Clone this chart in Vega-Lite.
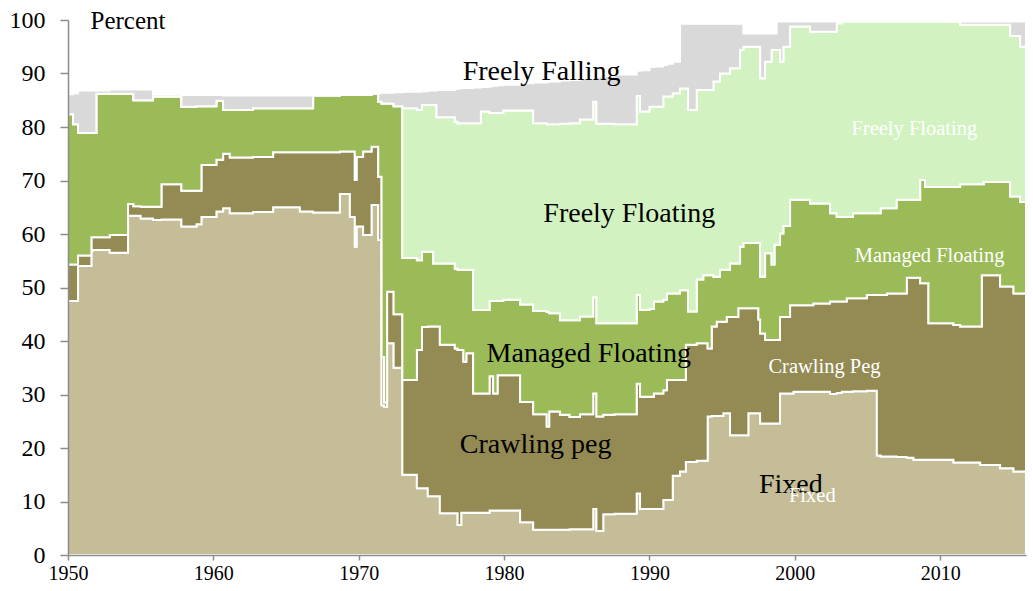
{
  "$schema": "https://vega.github.io/schema/vega-lite/v6.json",
  "width": 958,
  "height": 535,
  "autosize": {"type": "none"},
  "padding": {"left": 68, "top": 20, "right": 7, "bottom": 36},
  "background": "white",
  "config": {"view": {"stroke": null}, "font": "Liberation Serif, Times New Roman, DejaVu Serif, serif"},
  "datasets": {
    "regimes": [
      {"year": 1950.00, "s1_fixed": 47.5, "s2_crawling_peg": 6.8, "s3_managed_floating": 28.1, "s4_freely_floating": 0, "s5_freely_falling": 3.7},
      {"year": 1950.35, "s1_fixed": 47.5, "s2_crawling_peg": 6.8, "s3_managed_floating": 26.2, "s4_freely_floating": 0, "s5_freely_falling": 5.8},
      {"year": 1950.69, "s1_fixed": 54.0, "s2_crawling_peg": 2.0, "s3_managed_floating": 22.9, "s4_freely_floating": 0, "s5_freely_falling": 7.9},
      {"year": 1951.61, "s1_fixed": 56.9, "s2_crawling_peg": 2.5, "s3_managed_floating": 19.5, "s4_freely_floating": 0, "s5_freely_falling": 7.9},
      {"year": 1951.72, "s1_fixed": 57.0, "s2_crawling_peg": 2.4, "s3_managed_floating": 19.5, "s4_freely_floating": 0, "s5_freely_falling": 7.9},
      {"year": 1951.95, "s1_fixed": 57.0, "s2_crawling_peg": 2.4, "s3_managed_floating": 26.8, "s4_freely_floating": 0, "s5_freely_falling": 0.6},
      {"year": 1952.87, "s1_fixed": 56.5, "s2_crawling_peg": 3.3, "s3_managed_floating": 26.4, "s4_freely_floating": 0, "s5_freely_falling": 0.8},
      {"year": 1954.13, "s1_fixed": 63.4, "s2_crawling_peg": 2.2, "s3_managed_floating": 20.6, "s4_freely_floating": 0, "s5_freely_falling": 0.8},
      {"year": 1954.50, "s1_fixed": 63.4, "s2_crawling_peg": 1.8, "s3_managed_floating": 19.8, "s4_freely_floating": 0, "s5_freely_falling": 2.0},
      {"year": 1955.00, "s1_fixed": 62.9, "s2_crawling_peg": 2.2, "s3_managed_floating": 19.9, "s4_freely_floating": 0, "s5_freely_falling": 2.0},
      {"year": 1955.85, "s1_fixed": 62.6, "s2_crawling_peg": 2.5, "s3_managed_floating": 20.6, "s4_freely_floating": 0, "s5_freely_falling": 0.4},
      {"year": 1956.43, "s1_fixed": 62.7, "s2_crawling_peg": 6.6, "s3_managed_floating": 16.4, "s4_freely_floating": 0, "s5_freely_falling": 0.4},
      {"year": 1957.80, "s1_fixed": 61.4, "s2_crawling_peg": 6.7, "s3_managed_floating": 15.7, "s4_freely_floating": 0, "s5_freely_falling": 2.2},
      {"year": 1958.84, "s1_fixed": 61.8, "s2_crawling_peg": 6.3, "s3_managed_floating": 15.8, "s4_freely_floating": 0, "s5_freely_falling": 2.1},
      {"year": 1959.18, "s1_fixed": 63.2, "s2_crawling_peg": 9.7, "s3_managed_floating": 11.0, "s4_freely_floating": 0, "s5_freely_falling": 2.1},
      {"year": 1960.21, "s1_fixed": 64.2, "s2_crawling_peg": 9.7, "s3_managed_floating": 11.0, "s4_freely_floating": 0, "s5_freely_falling": 1.1},
      {"year": 1960.67, "s1_fixed": 64.8, "s2_crawling_peg": 10.2, "s3_managed_floating": 8.2, "s4_freely_floating": 0, "s5_freely_falling": 2.7},
      {"year": 1961.13, "s1_fixed": 63.9, "s2_crawling_peg": 10.4, "s3_managed_floating": 8.9, "s4_freely_floating": 0, "s5_freely_falling": 2.7},
      {"year": 1962.73, "s1_fixed": 64.1, "s2_crawling_peg": 10.3, "s3_managed_floating": 9.1, "s4_freely_floating": 0, "s5_freely_falling": 2.4},
      {"year": 1964.11, "s1_fixed": 65.0, "s2_crawling_peg": 10.3, "s3_managed_floating": 8.2, "s4_freely_floating": 0, "s5_freely_falling": 2.4},
      {"year": 1965.95, "s1_fixed": 64.2, "s2_crawling_peg": 11.1, "s3_managed_floating": 8.2, "s4_freely_floating": 0, "s5_freely_falling": 2.4},
      {"year": 1966.86, "s1_fixed": 64.0, "s2_crawling_peg": 11.3, "s3_managed_floating": 10.6, "s4_freely_floating": 0, "s5_freely_falling": 0},
      {"year": 1968.70, "s1_fixed": 67.5, "s2_crawling_peg": 7.9, "s3_managed_floating": 10.6, "s4_freely_floating": 0, "s5_freely_falling": 0},
      {"year": 1969.39, "s1_fixed": 63.2, "s2_crawling_peg": 12.2, "s3_managed_floating": 10.6, "s4_freely_floating": 0, "s5_freely_falling": 0},
      {"year": 1969.73, "s1_fixed": 57.6, "s2_crawling_peg": 12.5, "s3_managed_floating": 15.9, "s4_freely_floating": 0, "s5_freely_falling": 0},
      {"year": 1969.85, "s1_fixed": 61.4, "s2_crawling_peg": 13.0, "s3_managed_floating": 11.6, "s4_freely_floating": 0, "s5_freely_falling": 0},
      {"year": 1970.30, "s1_fixed": 59.8, "s2_crawling_peg": 15.6, "s3_managed_floating": 10.6, "s4_freely_floating": 0, "s5_freely_falling": 0},
      {"year": 1970.88, "s1_fixed": 65.4, "s2_crawling_peg": 10.9, "s3_managed_floating": 9.9, "s4_freely_floating": 0, "s5_freely_falling": 0},
      {"year": 1971.34, "s1_fixed": 58.9, "s2_crawling_peg": 11.8, "s3_managed_floating": 14.0, "s4_freely_floating": 0, "s5_freely_falling": 1.6},
      {"year": 1971.57, "s1_fixed": 28.0, "s2_crawling_peg": 9.0, "s3_managed_floating": 47.4, "s4_freely_floating": 0, "s5_freely_falling": 2.0},
      {"year": 1971.75, "s1_fixed": 27.7, "s2_crawling_peg": 0.8, "s3_managed_floating": 55.9, "s4_freely_floating": 0, "s5_freely_falling": 2.0},
      {"year": 1971.95, "s1_fixed": 39.6, "s2_crawling_peg": 9.6, "s3_managed_floating": 35.2, "s4_freely_floating": 0, "s5_freely_falling": 2.0},
      {"year": 1972.40, "s1_fixed": 35.0, "s2_crawling_peg": 10.0, "s3_managed_floating": 38.9, "s4_freely_floating": 0, "s5_freely_falling": 2.6},
      {"year": 1973.00, "s1_fixed": 15.0, "s2_crawling_peg": 17.7, "s3_managed_floating": 22.8, "s4_freely_floating": 28.0, "s5_freely_falling": 3.1},
      {"year": 1974.00, "s1_fixed": 12.5, "s2_crawling_peg": 25.8, "s3_managed_floating": 16.8, "s4_freely_floating": 28.1, "s5_freely_falling": 3.4},
      {"year": 1974.35, "s1_fixed": 12.5, "s2_crawling_peg": 30.1, "s3_managed_floating": 14.1, "s4_freely_floating": 27.4, "s5_freely_falling": 2.6},
      {"year": 1974.75, "s1_fixed": 11.0, "s2_crawling_peg": 31.7, "s3_managed_floating": 14.0, "s4_freely_floating": 27.4, "s5_freely_falling": 2.7},
      {"year": 1975.12, "s1_fixed": 11.0, "s2_crawling_peg": 31.7, "s3_managed_floating": 11.8, "s4_freely_floating": 29.6, "s5_freely_falling": 2.7},
      {"year": 1975.35, "s1_fixed": 11.0, "s2_crawling_peg": 31.7, "s3_managed_floating": 11.8, "s4_freely_floating": 27.3, "s5_freely_falling": 5.1},
      {"year": 1975.58, "s1_fixed": 7.8, "s2_crawling_peg": 31.5, "s3_managed_floating": 15.2, "s4_freely_floating": 27.3, "s5_freely_falling": 5.1},
      {"year": 1976.61, "s1_fixed": 7.8, "s2_crawling_peg": 30.8, "s3_managed_floating": 14.9, "s4_freely_floating": 27.5, "s5_freely_falling": 6.1},
      {"year": 1976.80, "s1_fixed": 5.6, "s2_crawling_peg": 32.7, "s3_managed_floating": 15.0, "s4_freely_floating": 27.4, "s5_freely_falling": 6.5},
      {"year": 1977.05, "s1_fixed": 7.9, "s2_crawling_peg": 30.4, "s3_managed_floating": 15.0, "s4_freely_floating": 27.4, "s5_freely_falling": 6.6},
      {"year": 1977.20, "s1_fixed": 7.9, "s2_crawling_peg": 28.2, "s3_managed_floating": 17.2, "s4_freely_floating": 27.4, "s5_freely_falling": 6.6},
      {"year": 1977.40, "s1_fixed": 7.9, "s2_crawling_peg": 29.8, "s3_managed_floating": 15.6, "s4_freely_floating": 27.4, "s5_freely_falling": 6.6},
      {"year": 1977.87, "s1_fixed": 7.9, "s2_crawling_peg": 22.3, "s3_managed_floating": 15.6, "s4_freely_floating": 34.9, "s5_freely_falling": 6.7},
      {"year": 1978.40, "s1_fixed": 7.9, "s2_crawling_peg": 22.3, "s3_managed_floating": 15.6, "s4_freely_floating": 37.1, "s5_freely_falling": 4.6},
      {"year": 1979.00, "s1_fixed": 8.3, "s2_crawling_peg": 25.1, "s3_managed_floating": 14.1, "s4_freely_floating": 35.1, "s5_freely_falling": 5.0},
      {"year": 1979.25, "s1_fixed": 8.3, "s2_crawling_peg": 21.9, "s3_managed_floating": 17.3, "s4_freely_floating": 35.1, "s5_freely_falling": 5.1},
      {"year": 1979.55, "s1_fixed": 8.3, "s2_crawling_peg": 25.3, "s3_managed_floating": 13.9, "s4_freely_floating": 35.1, "s5_freely_falling": 5.2},
      {"year": 1979.94, "s1_fixed": 8.3, "s2_crawling_peg": 25.3, "s3_managed_floating": 14.1, "s4_freely_floating": 35.4, "s5_freely_falling": 4.8},
      {"year": 1981.10, "s1_fixed": 6.1, "s2_crawling_peg": 22.5, "s3_managed_floating": 18.2, "s4_freely_floating": 36.3, "s5_freely_falling": 5.1},
      {"year": 1982.00, "s1_fixed": 4.7, "s2_crawling_peg": 21.6, "s3_managed_floating": 19.3, "s4_freely_floating": 35.1, "s5_freely_falling": 7.6},
      {"year": 1982.93, "s1_fixed": 4.7, "s2_crawling_peg": 19.3, "s3_managed_floating": 21.4, "s4_freely_floating": 35.1, "s5_freely_falling": 7.9},
      {"year": 1983.10, "s1_fixed": 4.7, "s2_crawling_peg": 22.1, "s3_managed_floating": 18.4, "s4_freely_floating": 35.3, "s5_freely_falling": 8.0},
      {"year": 1983.84, "s1_fixed": 4.7, "s2_crawling_peg": 21.5, "s3_managed_floating": 17.7, "s4_freely_floating": 36.7, "s5_freely_falling": 8.1},
      {"year": 1984.50, "s1_fixed": 4.8, "s2_crawling_peg": 21.0, "s3_managed_floating": 18.1, "s4_freely_floating": 36.8, "s5_freely_falling": 8.1},
      {"year": 1985.22, "s1_fixed": 4.8, "s2_crawling_peg": 21.5, "s3_managed_floating": 18.3, "s4_freely_floating": 36.8, "s5_freely_falling": 7.6},
      {"year": 1986.13, "s1_fixed": 8.6, "s2_crawling_peg": 21.6, "s3_managed_floating": 18.0, "s4_freely_floating": 36.5, "s5_freely_falling": 4.6},
      {"year": 1986.35, "s1_fixed": 4.5, "s2_crawling_peg": 21.4, "s3_managed_floating": 17.4, "s4_freely_floating": 37.3, "s5_freely_falling": 8.8},
      {"year": 1986.82, "s1_fixed": 7.6, "s2_crawling_peg": 18.6, "s3_managed_floating": 17.1, "s4_freely_floating": 37.3, "s5_freely_falling": 8.9},
      {"year": 1987.60, "s1_fixed": 7.7, "s2_crawling_peg": 18.6, "s3_managed_floating": 17.0, "s4_freely_floating": 37.2, "s5_freely_falling": 9.3},
      {"year": 1989.12, "s1_fixed": 11.5, "s2_crawling_peg": 20.5, "s3_managed_floating": 16.6, "s4_freely_floating": 37.2, "s5_freely_falling": 4.7},
      {"year": 1989.35, "s1_fixed": 8.6, "s2_crawling_peg": 21.0, "s3_managed_floating": 16.2, "s4_freely_floating": 37.1, "s5_freely_falling": 7.7},
      {"year": 1990.00, "s1_fixed": 8.6, "s2_crawling_peg": 21.0, "s3_managed_floating": 16.4, "s4_freely_floating": 37.8, "s5_freely_falling": 7.4},
      {"year": 1990.30, "s1_fixed": 8.6, "s2_crawling_peg": 21.6, "s3_managed_floating": 17.2, "s4_freely_floating": 36.4, "s5_freely_falling": 7.5},
      {"year": 1990.95, "s1_fixed": 10.3, "s2_crawling_peg": 20.5, "s3_managed_floating": 16.9, "s4_freely_floating": 38.0, "s5_freely_falling": 5.9},
      {"year": 1991.20, "s1_fixed": 10.3, "s2_crawling_peg": 22.4, "s3_managed_floating": 16.2, "s4_freely_floating": 36.8, "s5_freely_falling": 6.1},
      {"year": 1991.60, "s1_fixed": 14.8, "s2_crawling_peg": 17.9, "s3_managed_floating": 16.2, "s4_freely_floating": 37.4, "s5_freely_falling": 5.9},
      {"year": 1992.10, "s1_fixed": 15.6, "s2_crawling_peg": 17.1, "s3_managed_floating": 16.8, "s4_freely_floating": 37.7, "s5_freely_falling": 12.1},
      {"year": 1992.50, "s1_fixed": 17.4, "s2_crawling_peg": 21.9, "s3_managed_floating": 10.2, "s4_freely_floating": 37.7, "s5_freely_falling": 12.1},
      {"year": 1992.65, "s1_fixed": 17.4, "s2_crawling_peg": 21.9, "s3_managed_floating": 6.2, "s4_freely_floating": 37.7, "s5_freely_falling": 16.1},
      {"year": 1993.25, "s1_fixed": 17.6, "s2_crawling_peg": 22.0, "s3_managed_floating": 11.9, "s4_freely_floating": 35.4, "s5_freely_falling": 12.4},
      {"year": 1993.70, "s1_fixed": 17.6, "s2_crawling_peg": 22.0, "s3_managed_floating": 12.7, "s4_freely_floating": 34.6, "s5_freely_falling": 12.4},
      {"year": 1994.00, "s1_fixed": 25.9, "s2_crawling_peg": 12.7, "s3_managed_floating": 13.7, "s4_freely_floating": 34.6, "s5_freely_falling": 12.4},
      {"year": 1994.28, "s1_fixed": 26.0, "s2_crawling_peg": 16.7, "s3_managed_floating": 9.6, "s4_freely_floating": 34.6, "s5_freely_falling": 12.4},
      {"year": 1994.40, "s1_fixed": 26.0, "s2_crawling_peg": 16.7, "s3_managed_floating": 9.3, "s4_freely_floating": 36.5, "s5_freely_falling": 10.8},
      {"year": 1994.62, "s1_fixed": 26.0, "s2_crawling_peg": 17.6, "s3_managed_floating": 8.4, "s4_freely_floating": 36.5, "s5_freely_falling": 10.8},
      {"year": 1994.85, "s1_fixed": 26.0, "s2_crawling_peg": 17.6, "s3_managed_floating": 9.7, "s4_freely_floating": 36.7, "s5_freely_falling": 9.3},
      {"year": 1995.08, "s1_fixed": 26.5, "s2_crawling_peg": 17.1, "s3_managed_floating": 9.7, "s4_freely_floating": 36.7, "s5_freely_falling": 9.3},
      {"year": 1995.31, "s1_fixed": 26.5, "s2_crawling_peg": 18.0, "s3_managed_floating": 8.8, "s4_freely_floating": 36.7, "s5_freely_falling": 9.3},
      {"year": 1995.54, "s1_fixed": 22.4, "s2_crawling_peg": 22.1, "s3_managed_floating": 10.0, "s4_freely_floating": 36.5, "s5_freely_falling": 8.3},
      {"year": 1996.11, "s1_fixed": 22.4, "s2_crawling_peg": 23.7, "s3_managed_floating": 8.4, "s4_freely_floating": 36.5, "s5_freely_falling": 8.3},
      {"year": 1996.23, "s1_fixed": 22.4, "s2_crawling_peg": 23.7, "s3_managed_floating": 11.5, "s4_freely_floating": 36.8, "s5_freely_falling": 4.9},
      {"year": 1996.46, "s1_fixed": 22.4, "s2_crawling_peg": 23.7, "s3_managed_floating": 12.2, "s4_freely_floating": 36.7, "s5_freely_falling": 2.5},
      {"year": 1996.80, "s1_fixed": 26.5, "s2_crawling_peg": 19.6, "s3_managed_floating": 12.2, "s4_freely_floating": 36.7, "s5_freely_falling": 2.5},
      {"year": 1997.49, "s1_fixed": 26.5, "s2_crawling_peg": 17.5, "s3_managed_floating": 14.3, "s4_freely_floating": 36.7, "s5_freely_falling": 2.5},
      {"year": 1997.61, "s1_fixed": 24.6, "s2_crawling_peg": 16.8, "s3_managed_floating": 10.6, "s4_freely_floating": 37.1, "s5_freely_falling": 8.4},
      {"year": 1997.95, "s1_fixed": 24.6, "s2_crawling_peg": 15.6, "s3_managed_floating": 16.2, "s4_freely_floating": 35.8, "s5_freely_falling": 5.3},
      {"year": 1998.40, "s1_fixed": 24.6, "s2_crawling_peg": 15.6, "s3_managed_floating": 14.1, "s4_freely_floating": 40.1, "s5_freely_falling": 3.1},
      {"year": 1998.60, "s1_fixed": 24.6, "s2_crawling_peg": 15.6, "s3_managed_floating": 17.8, "s4_freely_floating": 36.4, "s5_freely_falling": 3.1},
      {"year": 1998.75, "s1_fixed": 24.6, "s2_crawling_peg": 15.6, "s3_managed_floating": 17.8, "s4_freely_floating": 36.4, "s5_freely_falling": 5.3},
      {"year": 1998.98, "s1_fixed": 30.2, "s2_crawling_peg": 14.3, "s3_managed_floating": 15.6, "s4_freely_floating": 32.1, "s5_freely_falling": 7.5},
      {"year": 1999.21, "s1_fixed": 30.2, "s2_crawling_peg": 14.3, "s3_managed_floating": 17.0, "s4_freely_floating": 33.5, "s5_freely_falling": 4.7},
      {"year": 1999.67, "s1_fixed": 30.2, "s2_crawling_peg": 16.5, "s3_managed_floating": 19.7, "s4_freely_floating": 32.4, "s5_freely_falling": 0.9},
      {"year": 1999.90, "s1_fixed": 30.5, "s2_crawling_peg": 16.2, "s3_managed_floating": 19.7, "s4_freely_floating": 32.4, "s5_freely_falling": 0.9},
      {"year": 2001.05, "s1_fixed": 30.5, "s2_crawling_peg": 16.2, "s3_managed_floating": 19.0, "s4_freely_floating": 32.1, "s5_freely_falling": 1.9},
      {"year": 2001.27, "s1_fixed": 30.5, "s2_crawling_peg": 16.5, "s3_managed_floating": 18.7, "s4_freely_floating": 32.1, "s5_freely_falling": 1.9},
      {"year": 2002.42, "s1_fixed": 30.1, "s2_crawling_peg": 17.3, "s3_managed_floating": 16.5, "s4_freely_floating": 33.9, "s5_freely_falling": 1.9},
      {"year": 2002.88, "s1_fixed": 30.3, "s2_crawling_peg": 17.1, "s3_managed_floating": 15.8, "s4_freely_floating": 36.2, "s5_freely_falling": 0.3},
      {"year": 2003.23, "s1_fixed": 30.5, "s2_crawling_peg": 16.9, "s3_managed_floating": 15.8, "s4_freely_floating": 36.5, "s5_freely_falling": 0},
      {"year": 2003.57, "s1_fixed": 30.5, "s2_crawling_peg": 17.5, "s3_managed_floating": 15.2, "s4_freely_floating": 36.5, "s5_freely_falling": 0},
      {"year": 2004.00, "s1_fixed": 30.6, "s2_crawling_peg": 17.4, "s3_managed_floating": 15.9, "s4_freely_floating": 35.8, "s5_freely_falling": 0},
      {"year": 2004.95, "s1_fixed": 30.7, "s2_crawling_peg": 17.9, "s3_managed_floating": 15.3, "s4_freely_floating": 35.8, "s5_freely_falling": 0},
      {"year": 2005.64, "s1_fixed": 18.6, "s2_crawling_peg": 30.0, "s3_managed_floating": 15.3, "s4_freely_floating": 35.8, "s5_freely_falling": 0},
      {"year": 2005.90, "s1_fixed": 18.4, "s2_crawling_peg": 30.2, "s3_managed_floating": 16.2, "s4_freely_floating": 34.9, "s5_freely_falling": 0},
      {"year": 2006.33, "s1_fixed": 18.4, "s2_crawling_peg": 30.5, "s3_managed_floating": 15.9, "s4_freely_floating": 34.9, "s5_freely_falling": 0},
      {"year": 2007.00, "s1_fixed": 18.3, "s2_crawling_peg": 30.6, "s3_managed_floating": 17.5, "s4_freely_floating": 33.3, "s5_freely_falling": 0},
      {"year": 2007.70, "s1_fixed": 18.2, "s2_crawling_peg": 33.6, "s3_managed_floating": 14.6, "s4_freely_floating": 33.3, "s5_freely_falling": 0},
      {"year": 2008.16, "s1_fixed": 17.8, "s2_crawling_peg": 34.0, "s3_managed_floating": 14.6, "s4_freely_floating": 33.3, "s5_freely_falling": 0},
      {"year": 2008.62, "s1_fixed": 17.8, "s2_crawling_peg": 33.0, "s3_managed_floating": 19.3, "s4_freely_floating": 29.6, "s5_freely_falling": 0},
      {"year": 2008.95, "s1_fixed": 17.8, "s2_crawling_peg": 33.0, "s3_managed_floating": 18.0, "s4_freely_floating": 30.9, "s5_freely_falling": 0},
      {"year": 2009.19, "s1_fixed": 17.8, "s2_crawling_peg": 25.5, "s3_managed_floating": 25.5, "s4_freely_floating": 30.9, "s5_freely_falling": 0},
      {"year": 2010.91, "s1_fixed": 17.3, "s2_crawling_peg": 25.7, "s3_managed_floating": 25.8, "s4_freely_floating": 30.9, "s5_freely_falling": 0},
      {"year": 2011.37, "s1_fixed": 17.3, "s2_crawling_peg": 25.4, "s3_managed_floating": 26.6, "s4_freely_floating": 29.8, "s5_freely_falling": 0.6},
      {"year": 2012.75, "s1_fixed": 16.8, "s2_crawling_peg": 25.9, "s3_managed_floating": 26.6, "s4_freely_floating": 29.8, "s5_freely_falling": 0.6},
      {"year": 2012.86, "s1_fixed": 16.8, "s2_crawling_peg": 35.5, "s3_managed_floating": 17.0, "s4_freely_floating": 29.8, "s5_freely_falling": 0.6},
      {"year": 2013.00, "s1_fixed": 16.8, "s2_crawling_peg": 35.5, "s3_managed_floating": 17.4, "s4_freely_floating": 29.4, "s5_freely_falling": 0.6},
      {"year": 2014.12, "s1_fixed": 16.2, "s2_crawling_peg": 34.0, "s3_managed_floating": 19.5, "s4_freely_floating": 29.4, "s5_freely_falling": 0.6},
      {"year": 2014.81, "s1_fixed": 16.2, "s2_crawling_peg": 34.0, "s3_managed_floating": 16.8, "s4_freely_floating": 30.0, "s5_freely_falling": 2.7},
      {"year": 2015.04, "s1_fixed": 15.6, "s2_crawling_peg": 33.3, "s3_managed_floating": 18.1, "s4_freely_floating": 30.0, "s5_freely_falling": 2.7},
      {"year": 2015.50, "s1_fixed": 15.6, "s2_crawling_peg": 33.3, "s3_managed_floating": 17.1, "s4_freely_floating": 29.0, "s5_freely_falling": 4.7},
      {"year": 2015.90, "s1_fixed": 15.6, "s2_crawling_peg": 33.3, "s3_managed_floating": 17.1, "s4_freely_floating": 29.0, "s5_freely_falling": 4.7}
    ]
  },
  "layer": [
    {
      "data": {"name": "regimes"},
      "transform": [
        {"fold": ["s1_fixed", "s2_crawling_peg", "s3_managed_floating", "s4_freely_floating", "s5_freely_falling"], "as": ["regime", "percent"]}
      ],
      "mark": {"type": "area", "interpolate": "step-after", "stroke": "white", "strokeWidth": 2, "strokeJoin": "miter"},
      "encoding": {
        "x": {
          "field": "year", "type": "quantitative",
          "scale": {"domain": [1950, 2015.9], "nice": false, "zero": false},
          "axis": {
            "values": [1950, 1960, 1970, 1980, 1990, 2000, 2010], "format": "d", "title": null, "grid": false,
            "labelFont": "Liberation Serif, Times New Roman, DejaVu Serif, serif", "labelFontSize": 20, "labelColor": "black",
            "labelFlush": false, "labelOverlap": false,
            "tickSize": 5, "tickWidth": 1.5, "tickColor": "#8c8c8c",
            "domainColor": "#8c8c8c", "domainWidth": 1.5, "labelPadding": 3, "zindex": 1
          }
        },
        "y": {
          "field": "percent", "type": "quantitative", "stack": "zero",
          "scale": {"domain": [0, 100], "nice": false},
          "axis": {
            "values": [0, 10, 20, 30, 40, 50, 60, 70, 80, 90, 100], "grid": false,
            "title": "Percent", "titleAngle": 0, "titleAlign": "left", "titleBaseline": "alphabetic",
            "titleX": 22, "titleY": 8, "titleFont": "Liberation Serif, Times New Roman, DejaVu Serif, serif", "titleFontSize": 25,
            "titleFontWeight": "normal", "titleColor": "black",
            "labelFont": "Liberation Serif, Times New Roman, DejaVu Serif, serif", "labelFontSize": 24, "labelColor": "black",
            "labelFlush": false, "labelOverlap": false,
            "tickSize": 8, "tickWidth": 1.5, "tickColor": "#8c8c8c",
            "domainColor": "#8c8c8c", "domainWidth": 1.5, "labelPadding": 15, "zindex": 1
          }
        },
        "color": {
          "field": "regime", "type": "nominal",
          "scale": {
            "domain": ["s1_fixed", "s2_crawling_peg", "s3_managed_floating", "s4_freely_floating", "s5_freely_falling"],
            "range": ["#C4BD97", "#948A54", "#9BBB59", "#D2F3C1", "#D9D9D9"]
          },
          "legend": null
        },
        "order": {"field": "regime", "sort": "ascending"}
      }
    },
    {
      "data": {"values": [
        {"year": 1982.58, "value": 88.8, "label": "Freely Falling"},
        {"year": 1988.61, "value": 62.3, "label": "Freely Floating"},
        {"year": 1985.83, "value": 36.1, "label": "Managed Floating"},
        {"year": 1982.17, "value": 19.0, "label": "Crawling peg"},
        {"year": 1999.72, "value": 11.5, "label": "Fixed"}
      ]},
      "mark": {"type": "text", "font": "Liberation Serif, Times New Roman, DejaVu Serif, serif", "fontSize": 28, "color": "black", "align": "center", "baseline": "alphabetic"},
      "encoding": {
        "x": {"field": "year", "type": "quantitative"},
        "y": {"field": "value", "type": "quantitative"},
        "text": {"field": "label"}
      }
    },
    {
      "data": {"values": [
        {"year": 2008.22, "value": 78.5, "label": "Freely Floating"},
        {"year": 2009.27, "value": 54.8, "label": "Managed Floating"},
        {"year": 2002.04, "value": 33.96, "label": "Crawling Peg"},
        {"year": 2001.2, "value": 9.85, "label": "Fixed"}
      ]},
      "mark": {"type": "text", "font": "Liberation Serif, Times New Roman, DejaVu Serif, serif", "fontSize": 20.5, "color": "white", "align": "center", "baseline": "alphabetic"},
      "encoding": {
        "x": {"field": "year", "type": "quantitative"},
        "y": {"field": "value", "type": "quantitative"},
        "text": {"field": "label"}
      }
    }
  ]
}
